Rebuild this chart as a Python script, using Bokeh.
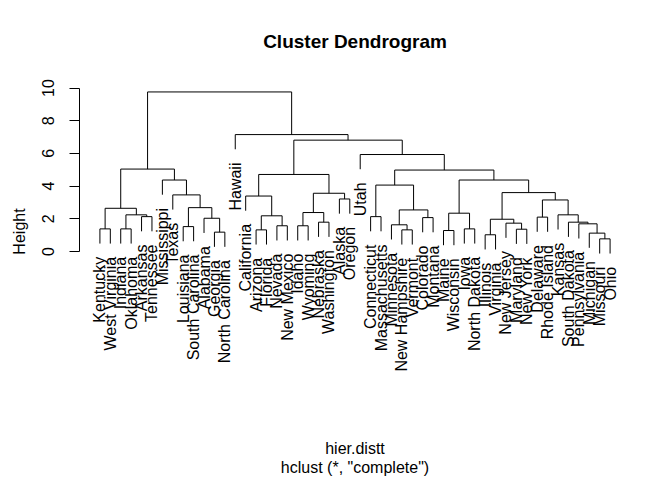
from bokeh.plotting import figure
from bokeh.models import Range1d, FixedTicker, Title, ColumnDataSource
from bokeh.embed import file_html
from bokeh.resources import INLINE
from bokeh.core.properties import value

# ---- data (hclust result, leaves in plotting order) ----
labels = ["Kentucky", "West Virginia", "Indiana", "Oklahoma", "Arkansas", "Tennessee",
          "Mississippi", "Texas", "Louisiana", "South Carolina", "Alabama", "Georgia",
          "North Carolina", "Hawaii", "California", "Arizona", "Florida", "Nevada",
          "New Mexico", "Idaho", "Wyoming", "Nebraska", "Washington", "Alaska", "Oregon",
          "Utah", "Connecticut", "Massachusetts", "Minnesota", "New Hampshire", "Vermont",
          "Colorado", "Montana", "Maine", "Wisconsin", "Iowa", "North Dakota", "Illinois",
          "Virginia", "New Jersey", "Maryland", "New York", "Delaware", "Rhode Island",
          "Kansas", "South Dakota", "Pennsylvania", "Michigan", "Missouri", "Ohio"]

# merge steps: negative = leaf position (1-based), positive = earlier merge (1-based)
merge_left = [-1, -3, -5, 2, 1, -9, -12, -11, 6, -8, -7, 5,
              -16, -18, 13, -15, -20, -22, 17, -24, 19, 16,
              -27, -30, -29, -32, 25, 23,
              -34, -36, 29, -38, -41, -40, 32, -43, -49, -48, -47, -46, -45, 36, 35, 31, 28,
              -26, 22, -14, 12]
merge_right = [-2, -4, -6, 3, 4, -10, -13, 7, 8, 9, 10, 11,
               -17, -19, 14, 15, -21, -23, 18, -25, 20, 21,
               -28, -31, 24, -33, 26, 27,
               -35, -37, 30, -39, -42, 33, 34, -44, -50, 37, 38, 39, 40, 41, 42, 43, 44,
               45, 46, 47, 48]
merge_height = [1.38, 1.38, 2.13, 2.24, 2.64, 1.52, 1.18, 2.03, 2.68, 3.46, 4.37, 5.04,
                1.32, 1.57, 2.18, 3.39, 1.57, 1.79, 2.38, 3.21, 3.56, 4.71,
                2.13, 1.32, 1.63, 2.07, 2.54, 4.06,
                1.28, 1.38, 2.34, 1.02, 1.36, 1.73, 1.97, 2.10, 0.77, 1.12, 1.69, 1.79,
                2.24, 3.15, 3.60, 4.37, 4.98,
                5.93, 6.81, 7.15, 9.76]

y_ticks = [0, 2, 4, 6, 8, 10]
main_title = "Cluster Dendrogram"
x_label = "hier.distt"
sub_title = 'hclust (*, "complete")'

# ---- layout of the dendrogram ----
hang = 0.1 * (max(merge_height) - min(merge_height))
label_gap = 0.81

node_x = []
xs, ys = [], []
leaf_x, leaf_y, leaf_txt = [], [], []
for i, (a, b, h) in enumerate(zip(merge_left, merge_right, merge_height)):
    pts = []
    for c in (a, b):
        if c < 0:
            cx = float(-c)
            cy = h - hang
            leaf_x.append(cx)
            leaf_y.append(cy - label_gap)
            leaf_txt.append(labels[-c - 1])
        else:
            cx = node_x[c - 1]
            cy = merge_height[c - 1]
        pts.append((cx, cy))
    (x1, y1), (x2, y2) = pts
    node_x.append((x1 + x2) / 2)
    xs.append([x1, x1, x2, x2])
    ys.append([y1, h, h, y2])

FONT = "Liberation Sans"

p = figure(width=672, height=480, output_backend="svg", toolbar_location=None,
           x_range=Range1d(-0.96, 51.96), y_range=Range1d(-8.02, 10.46),
           min_border_left=79, min_border_right=42, min_border_top=79, min_border_bottom=98,
           x_axis_location=None, background_fill_color="white",
           border_fill_color="white")
p.outline_line_color = None
p.xgrid.visible = False
p.ygrid.visible = False

p.multi_line(xs=xs, ys=ys, line_color="black", line_width=1)

src = ColumnDataSource(dict(x=leaf_x, y=leaf_y, t=leaf_txt))
p.text(x="x", y="y", text="t", source=src, angle=1.5707963, text_align="right",
       text_baseline="middle", text_font=value(FONT), text_font_size="16px",
       text_color="black")

ax = p.yaxis[0]
ax.ticker = FixedTicker(ticks=y_ticks)
ax.bounds = (0, 10)
ax.axis_label = "Height"
ax.axis_label_text_font = FONT
ax.axis_label_text_font_size = "16px"
ax.axis_label_text_font_style = "normal"
ax.axis_label_text_color = "black"
ax.axis_label_standoff = 12
ax.major_label_orientation = "vertical"
ax.major_label_text_font = FONT
ax.major_label_text_font_size = "16px"
ax.major_label_text_color = "black"
ax.major_label_standoff = 15
ax.major_tick_out = 10
ax.major_tick_in = 0
ax.minor_tick_out = 0
ax.minor_tick_in = 0
ax.axis_line_color = "black"
ax.major_tick_line_color = "black"

p.title.text = main_title
p.title.align = "center"
p.title.text_font = FONT
p.title.text_font_size = "19px"
p.title.text_font_style = "bold"
p.title.text_color = "black"
p.title.standoff = 57

# spacer between the frame and the x label
p.add_layout(Title(text=" ", align="center", text_font=FONT, text_font_size="16px",
                   text_color="white", standoff=36), "below")
p.add_layout(Title(text=x_label, align="center", text_font=FONT, text_font_size="16px",
                   text_font_style="normal", text_color="black", standoff=0), "below")
p.add_layout(Title(text=sub_title, align="center", text_font=FONT, text_font_size="16px",
                   text_font_style="normal", text_color="black", standoff=0), "below")

open("out.html", "w").write(file_html(p, INLINE))
